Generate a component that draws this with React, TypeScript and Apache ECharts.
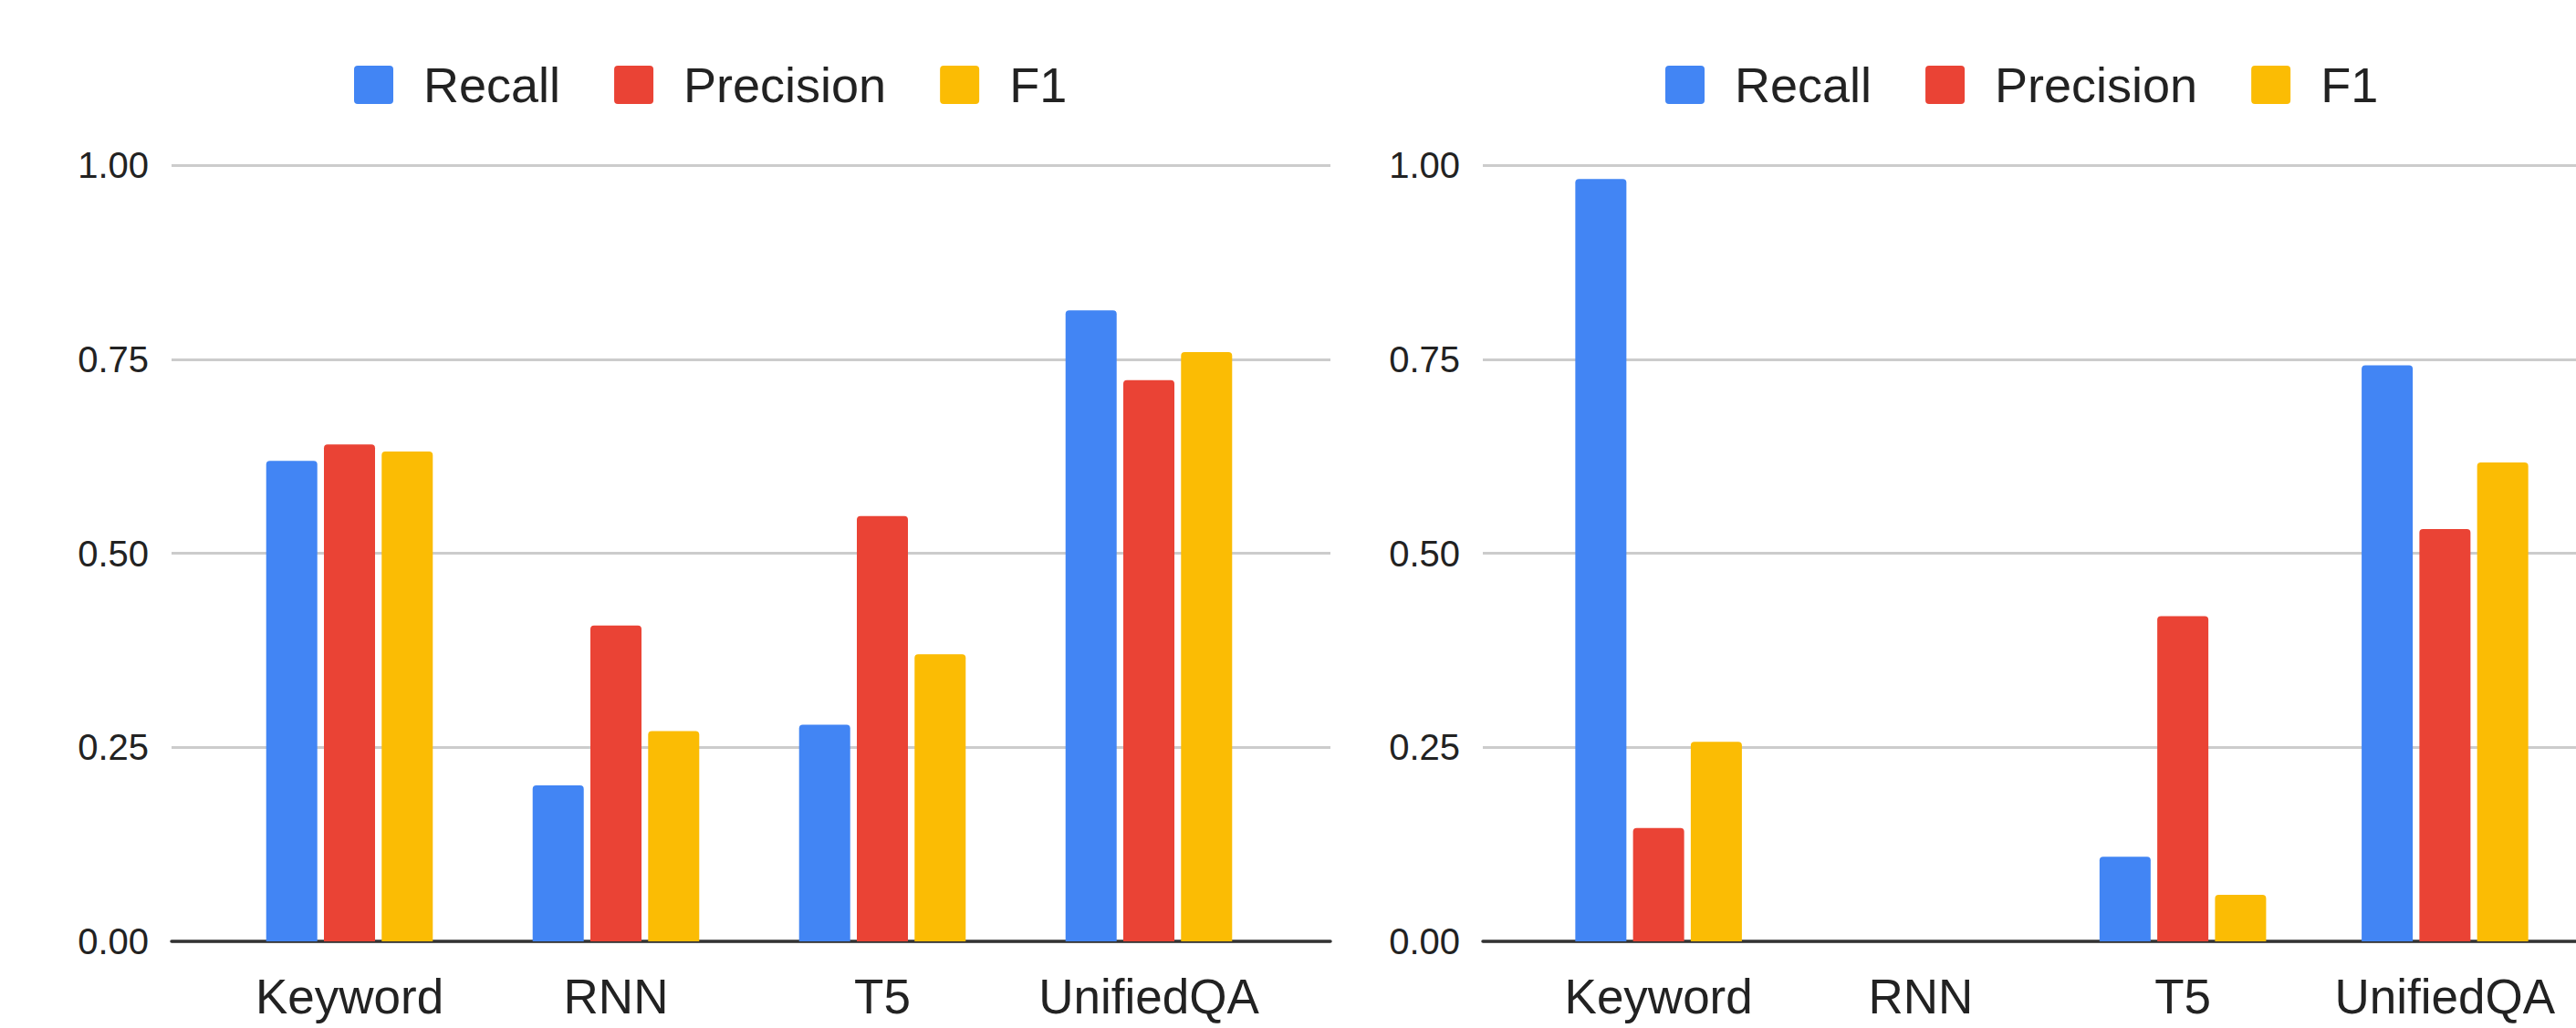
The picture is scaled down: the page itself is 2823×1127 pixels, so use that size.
import React, { useEffect, useRef } from "react";
import * as echarts from "echarts";

const categories = ["Keyword", "RNN", "T5", "UnifiedQA"];
const seriesNames = ["Recall", "Precision", "F1"];
const colors = ["#4285F4", "#EA4335", "#FBBC04"];

// Left chart
const leftRecall = [0.619, 0.201, 0.279, 0.813];
const leftPrecision = [0.64, 0.407, 0.548, 0.723];
const leftF1 = [0.631, 0.271, 0.37, 0.759];

// Right chart
const rightRecall = [0.982, 0, 0.109, 0.742];
const rightPrecision = [0.146, 0, 0.419, 0.531];
const rightF1 = [0.257, 0, 0.06, 0.617];

const yTicks = [0, 0.25, 0.5, 0.75, 1];

const FONT = "'Liberation Sans', Arial, sans-serif";
const TEXT = "#222222";
const ICON = "path://M4,0 L39,0 Q43,0 43,4 L43,38 Q43,42 39,42 L4,42 Q0,42 0,38 L0,4 Q0,0 4,0 Z";

export default function App() {
  const ref = useRef<HTMLDivElement>(null);

  useEffect(() => {
    document.body.style.margin = "0";
    if (!ref.current) return;
    const chart = echarts.init(ref.current, null, { renderer: "svg" });

    const H = 1127;
    const offset = 1437;
    const top = 181;
    const plotH = 851;
    const bottom = H - top - plotH;

    const gridFull = (l: number) => ({ left: l, width: 1270, top, bottom });
    const gridBars = (l: number) => ({ left: l, width: 1168, top, bottom });

    const yFull = (gi: number) => ({
      type: "value",
      gridIndex: gi,
      min: yTicks[0],
      max: yTicks[yTicks.length - 1],
      interval: 0.25,
      axisLine: { show: false },
      axisTick: { show: false },
      axisLabel: {
        show: true,
        margin: 25,
        fontSize: 40,
        color: TEXT,
        fontFamily: FONT,
        formatter: (v: number) => v.toFixed(2),
      },
      splitLine: { show: true, lineStyle: { color: "#cccccc", width: 3 } },
    });
    const xFull = (gi: number) => ({
      type: "value",
      gridIndex: gi,
      min: 0,
      max: 1,
      axisLine: { show: true, onZero: false, lineStyle: { color: "#333333", width: 3.5 } },
      axisTick: { show: false },
      axisLabel: { show: false },
      splitLine: { show: false },
    });
    const yBars = (gi: number) => ({
      type: "value",
      gridIndex: gi,
      min: 0,
      max: 1,
      show: false,
    });
    const xBars = (gi: number) => ({
      type: "category",
      gridIndex: gi,
      data: categories,
      axisLine: { show: false },
      axisTick: { show: false },
      splitLine: { show: false },
      axisLabel: {
        margin: 34,
        fontSize: 53,
        color: TEXT,
        fontFamily: FONT,
        interval: 0,
      },
    });

    const barSeries = (name: string, data: number[], color: string, axis: number) => ({
      type: "bar",
      name,
      data,
      xAxisIndex: axis,
      yAxisIndex: axis,
      barWidth: 56,
      barGap: "13%",
      itemStyle: { color, borderRadius: [4, 4, 0, 0] },
      z: 3,
    });

    const legendAt = (left: number) => ({
      left,
      top: 61,
      orient: "horizontal",
      itemWidth: 43,
      itemHeight: 42,
      itemGap: 59,
      icon: ICON,
      data: seriesNames,
      textStyle: {
        fontSize: 54,
        color: TEXT,
        fontFamily: FONT,
        padding: [0, 0, 0, 28],
      },
    });

    chart.setOption({
      animation: false,
      backgroundColor: "#ffffff",
      legend: [legendAt(383), legendAt(383 + offset)],
      grid: [
        gridFull(188),
        gridBars(237),
        gridFull(188 + offset),
        gridBars(237 + offset),
      ],
      xAxis: [xFull(0), xBars(1), xFull(2), xBars(3)],
      yAxis: [yFull(0), yBars(1), yFull(2), yBars(3)],
      series: [
        barSeries(seriesNames[0], leftRecall, colors[0], 1),
        barSeries(seriesNames[1], leftPrecision, colors[1], 1),
        barSeries(seriesNames[2], leftF1, colors[2], 1),
        barSeries(seriesNames[0], rightRecall, colors[0], 3),
        barSeries(seriesNames[1], rightPrecision, colors[1], 3),
        barSeries(seriesNames[2], rightF1, colors[2], 3),
      ],
    });

    return () => chart.dispose();
  }, []);

  return <div ref={ref} style={{ width: 2823, height: 1127, background: "#fff" }} />;
}
